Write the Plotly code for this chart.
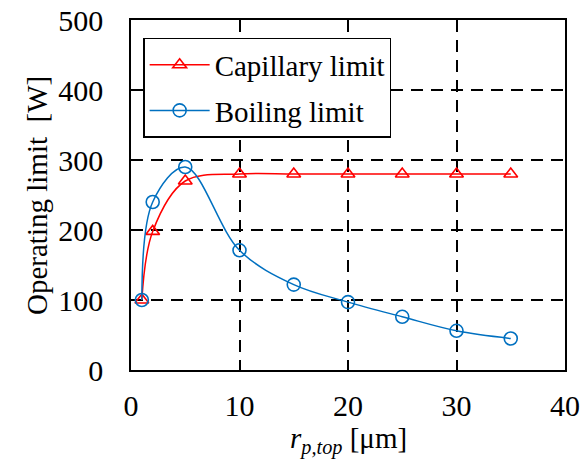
import plotly.graph_objects as go

x_vals = [1, 2, 5, 10, 15, 20, 25, 30, 35]
capillary = [100, 198, 270, 280, 280, 280, 280, 280, 280]
boiling = [100, 240, 290, 171, 122, 97, 76, 56, 45]
x_ticks = [0, 10, 20, 30, 40]
y_ticks = [0, 100, 200, 300, 400, 500]

FONT = "Liberation Serif, Times New Roman, serif"
TICK_FS = 30
FS = 29

fig = go.Figure()
fig.add_trace(go.Scatter(
    x=x_vals, y=capillary, name="Capillary limit", mode="lines+markers", legendgroup="cap",
    line=dict(color="#FF0000", width=1.5, shape="spline", smoothing=1.0),
    marker=dict(symbol="triangle-up-open", size=12, color="#FF0000", line=dict(width=1.6)),
))
fig.add_trace(go.Scatter(
    x=x_vals, y=boiling, name="Boiling limit", mode="lines+markers", legendgroup="boil",
    line=dict(color="#0070C0", width=1.5, shape="spline", smoothing=1.0),
    marker=dict(symbol="circle-open", size=13, color="#0070C0", line=dict(width=1.6)),
))

axis_common = dict(
    showline=True, linecolor="black", linewidth=1.5, mirror=True,
    showgrid=True, gridcolor="black", gridwidth=1.5, griddash="12px,8px",
    zeroline=False, ticks="", automargin=False,
    tickfont=dict(family=FONT, size=TICK_FS, color="black"),
)

fig.update_xaxes(range=[0, 40], tickvals=x_ticks, ticklabelstandoff=8, **axis_common)
fig.update_yaxes(range=[0, 500], tickvals=y_ticks, ticklabelstandoff=20, **axis_common)

fig.add_annotation(
    text="<i>r</i><sub><i>p,top</i></sub> [μm]", xref="paper", yref="paper",
    x=0.5, y=-0.2, xanchor="center", yanchor="middle", showarrow=False,
    font=dict(family=FONT, size=FS, color="black"),
)
fig.add_annotation(
    text="Operating limit\u00a0 [W]", xref="paper", yref="paper",
    x=-0.2166, y=0.5, xanchor="center", yanchor="middle", showarrow=False, textangle=-90,
    font=dict(family=FONT, size=FS, color="black"),
)

fig.update_layout(
    width=582, height=461,
    margin=dict(l=131, r=17, t=20, b=91),
    plot_bgcolor="white", paper_bgcolor="white",
    font=dict(family=FONT, size=FS, color="black"),
    legend=dict(
        x=0.028, y=0.949, xanchor="left", yanchor="top",
        bgcolor="white", bordercolor="black", borderwidth=1.5,
        font=dict(family=FONT, size=FS, color="black"),
        itemwidth=60, tracegroupgap=5,
    ),
)

fig.write_html(
    "out.html",
    config={"displayModeBar": False},
    post_script="document.body.style.margin='0';document.body.style.overflow='hidden';",
)
